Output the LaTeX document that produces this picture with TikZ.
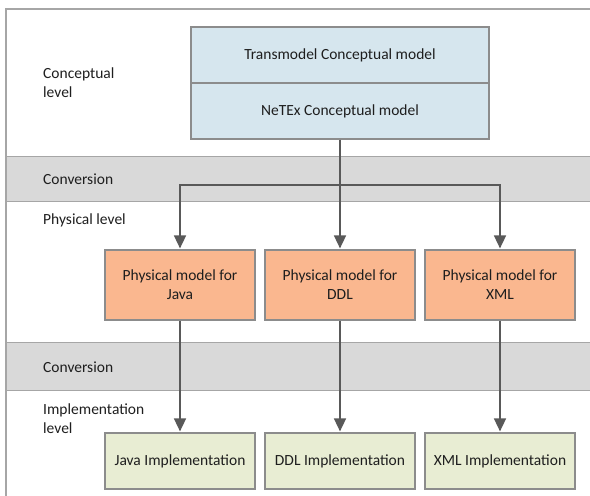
\documentclass[tikz,border=0pt]{standalone}
\usepackage{fontspec}
\setmainfont{Carlito}
\usetikzlibrary{arrows.meta}
\definecolor{bandgray}{HTML}{D9D9D9}
\definecolor{linegray}{HTML}{A6A6A6}
\definecolor{boxline}{HTML}{8C8C8C}
\definecolor{blueface}{HTML}{D6E6EE}
\definecolor{orangeface}{HTML}{FAB78F}
\definecolor{greenface}{HTML}{E8EDD3}
\definecolor{arrowgray}{HTML}{595959}
\definecolor{txt}{HTML}{1E1E1E}
\tikzset{
  every node/.style={font=\fontsize{15.5}{19}\selectfont, text=txt},
  modelbox/.style={draw=boxline, line width=1.2pt, minimum width=298pt, minimum height=56pt, fill=blueface, inner sep=0pt},
  physbox/.style={draw=boxline, line width=1.2pt, minimum width=150pt, minimum height=70pt, fill=orangeface, align=center, inner sep=0pt},
  implbox/.style={draw=boxline, line width=1.2pt, minimum width=150pt, minimum height=56pt, fill=greenface, inner sep=0pt},
  levellabel/.style={anchor=west, align=left, inner sep=0pt},
  arr/.style={draw=arrowgray, line width=1.6pt, -{Triangle[length=13pt,width=12pt]}, shorten >=1pt}
}
\begin{document}
\begin{tikzpicture}[x=1pt, y=-1pt]
\useasboundingbox (0,0) rectangle (590,496);
% conversion bands
\fill[bandgray] (6,156.7) rectangle (590,201.7);
\fill[bandgray] (6,342.7) rectangle (590,390.7);
\draw[linegray, line width=1.5pt] (6,156.7) -- (590,156.7);
\draw[linegray, line width=1.5pt] (6,201.7) -- (590,201.7);
\draw[linegray, line width=1.5pt] (6,342.7) -- (590,342.7);
\draw[linegray, line width=1.5pt] (6,390.7) -- (590,390.7);
% frame
\draw[linegray, line width=1.5pt] (6,496) -- (6,9) -- (590,9);
% level labels
\node[levellabel] (lconc) at (43,83) {Conceptual\\level};
\node[levellabel] (lconv1) at (43,179) {Conversion};
\node[levellabel] (lphys) at (43,220) {Physical level};
\node[levellabel] (lconv2) at (43,367) {Conversion};
\node[levellabel] (limpl) at (43,418.5) {Implementation\\level};
% conceptual boxes
\node[modelbox] (tm) at (340,55) {Transmodel Conceptual model};
\node[modelbox] (ntx) at (340,111) {NeTEx Conceptual model};
% physical
\node[physbox] (pjava) at (180,285) {Physical model for\\Java};
\node[physbox] (pddl) at (340,285) {Physical model for\\DDL};
\node[physbox] (pxml) at (500,285) {Physical model for\\XML};
% implementation
\node[implbox] (ijava) at (180,461) {Java Implementation};
\node[implbox] (iddl) at (340,461) {DDL Implementation};
\node[implbox] (ixml) at (500,461) {XML Implementation};
% connectors
\coordinate (split) at (340,185);
\draw[arr] (ntx.south) -- (pddl.north);
\draw[arr] (split) -| (pjava.north);
\draw[arr] (split) -| (pxml.north);
\draw[arr] (pjava.south) -- (ijava.north);
\draw[arr] (pddl.south) -- (iddl.north);
\draw[arr] (pxml.south) -- (ixml.north);
\end{tikzpicture}
\end{document}
